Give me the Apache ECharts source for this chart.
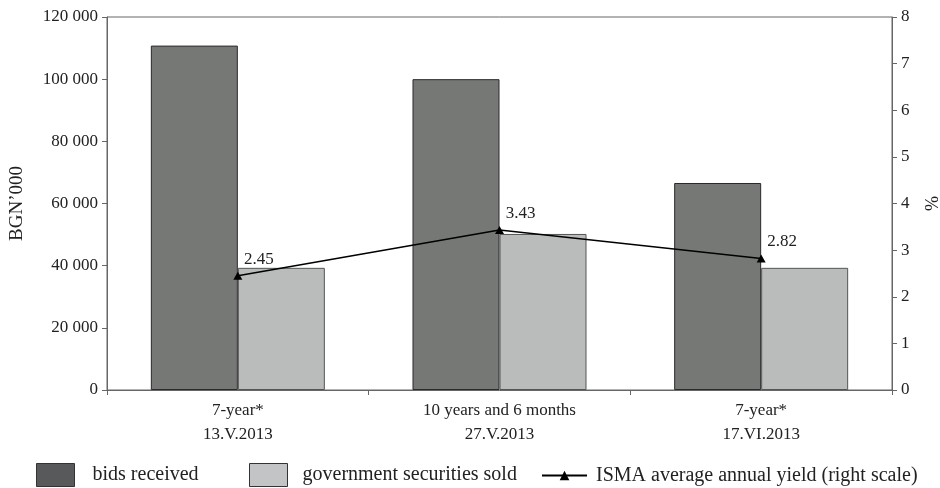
<!DOCTYPE html>
<html>
<head>
<meta charset="utf-8">
<script src="https://cdn.jsdelivr.net/npm/echarts@6/dist/echarts.min.js"></script>
<style>html,body{margin:0;padding:0;background:#fff}#c{width:940px;height:488px}</style>
</head>
<body>
<div id="c"></div>
<script>
const categories = ['7-year*\n13.V.2013', '10 years and 6 months\n27.V.2013', '7-year*\n17.VI.2013'];
const bidsReceived = [110800, 100000, 66600];
const securitiesSold = [39300, 50200, 39300];
const ismaYield = [2.45, 3.43, 2.82];
const leftTicks = [0, 20000, 40000, 60000, 80000, 100000, 120000];
const rightTicks = [0, 1, 2, 3, 4, 5, 6, 7, 8];
const seriesNames = ['bids received', 'government securities sold', 'ISMA average annual yield (right scale)'];

const FONT = 'Liberation Serif';
const chart = echarts.init(document.getElementById('c'), null, {renderer: 'canvas'});
const fmt = v => String(v).replace(/\B(?=(\d{3})+(?!\d))/g, ' ');
const legendText = {fontFamily: FONT, fontSize: 20, color: '#222'};

chart.setOption({
  animation: false,
  textStyle: {fontFamily: FONT, color: '#222'},
  grid: {left: 107, right: 48, top: 17, bottom: 98, show: true, borderColor: '#666', borderWidth: 1, outerBoundsMode: 'none', containLabel: false},
  legend: [
    {
      left: 36, bottom: 1, padding: 0,
      itemWidth: 38, itemHeight: 23,
      textStyle: Object.assign({padding: [0, 0, 0, 13]}, legendText),
      data: [{name: seriesNames[0], icon: 'rect', itemStyle: {color: '#58595b', borderColor: '#333', borderWidth: 1}}]
    },
    {
      left: 249, bottom: 1, padding: 0,
      itemWidth: 38, itemHeight: 23,
      textStyle: Object.assign({padding: [0, 0, 0, 10]}, legendText),
      data: [{name: seriesNames[1], icon: 'rect', itemStyle: {color: '#c2c4c6', borderColor: '#333', borderWidth: 1}}]
    },
    {
      left: 541, bottom: 1, padding: 0,
      itemWidth: 45, itemHeight: 12,
      textStyle: Object.assign({padding: [0, 0, 0, 4], height: 23, lineHeight: 23}, legendText),
      data: [{name: seriesNames[2]}]
    }
  ],
  xAxis: {
    type: 'category',
    data: categories,
    axisLine: {lineStyle: {color: '#666'}},
    axisTick: {show: true, length: 5, lineStyle: {color: '#666'}},
    axisLabel: {fontFamily: FONT, fontSize: 17, color: '#222', lineHeight: 24, margin: 9}
  },
  yAxis: [
    {
      type: 'value', min: leftTicks[0], max: leftTicks[leftTicks.length - 1], interval: 20000,
      name: 'BGN\u2019000', nameLocation: 'middle', nameGap: 80, nameRotate: 90,
      nameTextStyle: {fontFamily: FONT, fontSize: 19, color: '#222'},
      axisLine: {show: true, lineStyle: {color: '#666'}},
      axisTick: {show: true, length: 5, lineStyle: {color: '#666'}},
      splitLine: {show: false},
      axisLabel: {fontFamily: FONT, fontSize: 17, color: '#222', margin: 9, formatter: fmt}
    },
    {
      type: 'value', min: rightTicks[0], max: rightTicks[rightTicks.length - 1], interval: 1,
      name: '%', nameLocation: 'middle', nameGap: 29, nameRotate: -90,
      nameTextStyle: {fontFamily: FONT, fontSize: 18, color: '#222'},
      axisLine: {show: true, lineStyle: {color: '#666'}},
      axisTick: {show: true, length: 5, lineStyle: {color: '#666'}},
      splitLine: {show: false},
      axisLabel: {fontFamily: FONT, fontSize: 17, color: '#222', margin: 9}
    }
  ],
  series: [
    {
      name: seriesNames[0], type: 'bar', data: bidsReceived,
      barGap: 0, barCategoryGap: '33.5%',
      itemStyle: {color: '#767876', borderColor: '#2a2a2a', borderWidth: 1}
    },
    {
      name: seriesNames[1], type: 'bar', data: securitiesSold,
      barGap: 0, barCategoryGap: '33.5%',
      itemStyle: {color: '#b9bcbb', borderColor: '#555', borderWidth: 1}
    },
    {
      name: seriesNames[2], type: 'line', yAxisIndex: 1,
      data: ismaYield, symbol: 'triangle', symbolSize: [9, 8],
      lineStyle: {color: '#000', width: 1.5},
      itemStyle: {color: '#000'},
      label: {show: true, position: 'top', offset: [21, 1], fontFamily: FONT, fontSize: 17, color: '#222',
        formatter: p => p.value.toFixed(2)},
      z: 5
    }
  ]
});
</script>
</body>
</html>
